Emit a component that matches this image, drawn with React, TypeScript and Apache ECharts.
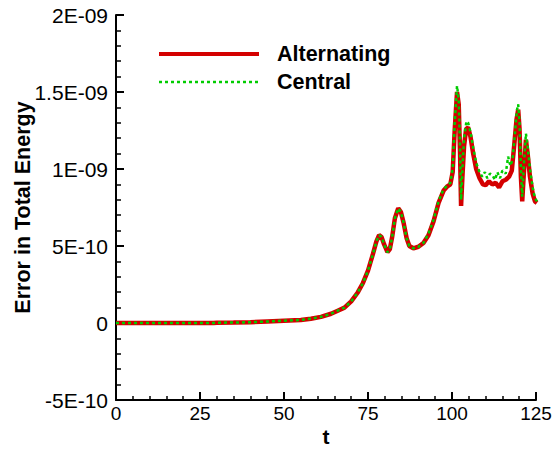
import React, { useEffect, useRef } from "react";
import * as echarts from "echarts";

// values in units of 1E-10
const altT = [0, 10, 20, 29, 30, 35, 40, 45, 50, 55, 58, 61, 64, 66, 68, 70, 72, 73.5, 75, 76.5, 77.5, 78.3, 79, 79.8, 80.8, 81.5, 82.2, 83, 84, 84.8, 85.6, 86.5, 87.3, 88.5, 90, 91.5, 93, 94.5, 96, 97.5, 98.5, 99.5, 100.2, 100.8, 101.5, 102, 102.4, 102.7, 103.1, 103.6, 104.2, 104.8, 105.5, 106.3, 107.2, 108.2, 109.2, 110, 111, 112, 113, 114, 115, 116, 117, 117.8, 118.5, 119.2, 119.7, 120.1, 120.5, 120.9, 121.4, 122, 122.5, 123.2, 124, 124.7, 125.3];
const altV = [0, 0, 0, 0, 0.02, 0.03, 0.05, 0.1, 0.15, 0.2, 0.28, 0.4, 0.6, 0.8, 1.0, 1.4, 2.0, 2.6, 3.4, 4.5, 5.3, 5.7, 5.6, 5.1, 4.6, 4.8, 5.6, 6.8, 7.45, 7.2, 6.5, 5.5, 5.0, 4.85, 4.95, 5.2, 5.7, 6.6, 7.8, 8.6, 8.85, 9.0, 9.8, 12.5, 15.0, 14.2, 11.0, 7.6, 9.5, 11.5, 12.6, 12.7, 12.1, 11.0, 10.0, 9.4, 9.0, 8.95, 9.2, 9.0, 9.1, 8.8, 9.2, 9.3, 9.5, 9.9, 11.5, 13.2, 13.85, 12.6, 9.5, 7.9, 9.8, 11.9, 11.0, 9.5, 8.4, 7.9, 7.8];

const cenT = [0, 10, 20, 29, 30, 35, 40, 45, 50, 55, 58, 61, 64, 66, 68, 70, 72, 73.5, 75, 76.5, 77.5, 78.3, 79, 79.8, 80.8, 81.5, 82.2, 83, 84, 84.8, 85.6, 86.5, 87.3, 88.5, 90, 91.5, 93, 94.5, 96, 97.5, 98.5, 99.5, 100.2, 100.8, 101.5, 102, 102.4, 102.7, 103.1, 103.6, 104.3, 104.8, 105.5, 106.3, 107.2, 108.2, 109, 109.8, 110.5, 111.3, 112, 112.8, 113.5, 114.3, 115, 116, 116.7, 117.4, 118, 118.6, 119.3, 119.7, 120.1, 120.5, 120.9, 121.4, 122, 122.5, 123.2, 124, 124.7, 125.3];
const cenV = [0, 0, 0, 0, 0.02, 0.03, 0.05, 0.1, 0.15, 0.2, 0.28, 0.4, 0.6, 0.8, 1.0, 1.4, 2.0, 2.6, 3.4, 4.5, 5.3, 5.7, 5.6, 5.1, 4.6, 4.8, 5.6, 6.8, 7.45, 7.2, 6.5, 5.5, 5.0, 4.85, 4.95, 5.2, 5.8, 6.7, 7.9, 8.7, 8.9, 9.1, 10.0, 13.0, 15.4, 14.5, 11.5, 8.0, 10.0, 12.0, 13.1, 13.0, 12.4, 11.4, 10.4, 9.8, 9.5, 9.8, 9.4, 9.7, 9.6, 9.3, 9.8, 9.4, 9.9, 9.7, 10.8, 10.2, 10.6, 12.0, 13.8, 14.2, 13.0, 10.0, 8.2, 10.3, 12.3, 11.5, 10.0, 8.8, 8.1, 7.9];

const seriesNames = ["Alternating", "Central"];
const xTicks = [0, 25, 50, 75, 100, 125];
const yTickValues = [-5, 0, 5, 10, 15, 20];
const yTickLabels = ["-5E-10", "0", "5E-10", "1E-09", "1.5E-09", "2E-09"];

const FONT = "'Liberation Sans', Arial, Helvetica, sans-serif";

export default function App() {
  const ref = useRef<HTMLDivElement>(null);
  useEffect(() => {
    if (!ref.current) return;
    const chart = echarts.init(ref.current, undefined, { renderer: "svg" });
    const altData = altT.map((t, i) => [t, altV[i]]);
    const cenData = cenT.map((t, i) => [t, cenV[i]]);
    chart.setOption({
      animation: false,
      backgroundColor: "#ffffff",
      grid: { left: 116, right: 20, top: 15, bottom: 52, outerBoundsMode: "none", containLabel: false },
      legend: {
        orient: "vertical",
        left: 157,
        top: 43,
        padding: 0,
        itemWidth: 100,
        itemHeight: 14,
        itemGap: 6,
        itemStyle: { opacity: 0 },
        textStyle: {
          fontFamily: FONT,
          fontWeight: "bold",
          fontSize: 21.5,
          color: "#000",
          padding: [0, 0, 0, 13],
        },
        data: [
          { name: seriesNames[0], itemStyle: { opacity: 0 }, lineStyle: { width: 4, color: "#d40000", opacity: 1 } },
          { name: seriesNames[1], itemStyle: { opacity: 0 }, lineStyle: { width: 2.5, color: "#00cc00", type: [3, 3], opacity: 1 } },
        ],
      },
      xAxis: {
        type: "value",
        min: xTicks[0],
        max: xTicks[xTicks.length - 1],
        interval: 25,
        name: "t",
        nameLocation: "middle",
        nameGap: 26,
        nameMoveOverlap: false,
        nameTextStyle: { fontFamily: FONT, fontWeight: "bold", fontSize: 21, color: "#000" },
        axisLine: { show: true, onZero: false, lineStyle: { color: "#000", width: 2 } },
        axisTick: { show: true, inside: true, length: 8, lineStyle: { color: "#000", width: 2 } },
        minorTick: { show: true, splitNumber: 5, length: 4, lineStyle: { color: "#000", width: 1.5 } },
        axisLabel: { fontFamily: FONT, fontSize: 19, color: "#000", margin: 4 },
        splitLine: { show: false },
      },
      yAxis: {
        type: "value",
        min: yTickValues[0],
        max: yTickValues[yTickValues.length - 1],
        interval: 5,
        name: "Error in Total Energy",
        nameLocation: "middle",
        nameRotate: 90,
        nameGap: 82,
        nameMoveOverlap: false,
        nameTextStyle: { fontFamily: FONT, fontWeight: "bold", fontSize: 21.5, color: "#000" },
        axisLine: { show: true, onZero: false, lineStyle: { color: "#000", width: 2 } },
        axisTick: { show: true, inside: true, length: 8, lineStyle: { color: "#000", width: 2 } },
        minorTick: { show: true, splitNumber: 5, length: 5, lineStyle: { color: "#000", width: 1.5 } },
        axisLabel: {
          fontFamily: FONT,
          fontSize: 21,
          color: "#000",
          margin: 8,
          formatter: (v: number) => {
            const i = yTickValues.findIndex((y) => Math.abs(y - v) < 1e-6);
            return i >= 0 ? yTickLabels[i] : "";
          },
        },
        splitLine: { show: false },
      },
      series: [
        {
          name: seriesNames[0],
          type: "line",
          data: altData,
          showSymbol: false,
          symbol: "none",
          lineStyle: { color: "#d40000", width: 4.5 },
          itemStyle: { color: "#d40000" },
          z: 2,
        },
        {
          name: seriesNames[1],
          type: "line",
          data: cenData,
          showSymbol: false,
          symbol: "none",
          lineStyle: { color: "#00cc00", width: 2.5, type: [3, 3] },
          itemStyle: { color: "#00cc00" },
          z: 3,
        },
      ],
    });
    return () => chart.dispose();
  }, []);
  return (
    <div
      ref={ref}
      style={{ position: "absolute", left: 0, top: 0, width: 556, height: 452 }}
    />
  );
}
